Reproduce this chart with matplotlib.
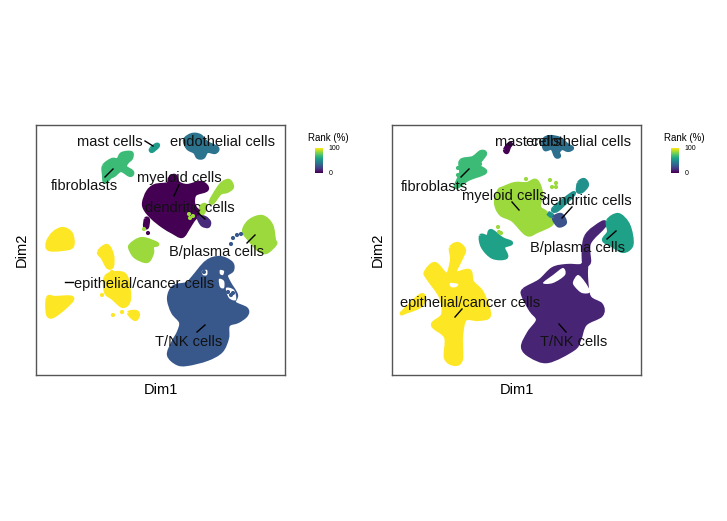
import matplotlib
matplotlib.use('Agg')
import matplotlib.pyplot as plt
from matplotlib.cm import ScalarMappable
from matplotlib.colors import Normalize
from matplotlib.patches import PathPatch
from matplotlib.path import Path

plt.rcParams['font.family'] = ['Liberation Sans', 'DejaVu Sans']

W, H = 727, 521

# outlines of the clusters (x, y as on screen)
# left panel
l_mast = [(151,149),(156,145),(158,145),(157,147),(152,151)]
l_endo = [(185,140),(192,135),(200,136),(207,143),(217,148),(215,152),(207,151),(203,157),(198,157),(195,152),(188,148)]
l_fibro = [(104,166),(112,160),(118,160),(122,154),(131,153),(131,158),(127,162),(125,167),(132,172),(130,175),(121,170),(114,175),(110,177),(105,182),(104,175)]
l_myeloid = [(170,178),(175,176),(178,183),(187,186),(200,183),(206,186),(206,190),(195,194),(193,202),(195,208),(199,213),(193,220),(188,228),(182,236),(173,232),(163,226),(153,218),(146,210),(144,203),(148,192),(155,186),(168,184)]
l_myeloid2 = [(146,219),(148,220),(147,227),(145,226)]
l_dend = [(199,217),(205,218),(209,222),(208,226),(203,225),(200,221)]
l_green1 = [(201,207),(205,205),(204,211),(202,213)]
l_green2 = [(223,183),(229,181),(232,187),(227,191),(220,193),(213,202),(211,201),(218,189)]
l_bplasma = [(250,221),(262,217),(271,225),(274,240),(275,244),(266,252),(258,249),(250,240),(244,231)]
l_green3 = [(131,245),(142,239),(157,244),(152,246),(152,253),(147,261),(136,257),(131,250)]
l_yellow1 = [(54,233),(63,229),(71,234),(72,246),(62,249),(49,249),(48,242)]
l_yellow2 = [(99,252),(107,246),(112,255),(112,266),(108,267),(103,258)]
l_yellow3 = [(106,277),(117,273),(126,277),(129,299),(123,306),(113,298),(106,292)]
l_yellow4 = [(129,313),(136,312),(138,315),(135,319)]
l_yellow5 = [(48,298),(55,298),(72,298),(65,307),(53,316),(48,314)]
l_tnk = [(207,262),(220,258),(231,263),(232,270),(226,275),(229,283),(236,295),(234,303),(246,309),(246,315),(238,321),(228,325),(227,338),(221,351),(207,359),(187,364),(177,363),(169,355),(173,343),(179,332),(181,322),(173,312),(169,298),(174,287),(187,284),(193,278)]
l_hole1 = [(202,271),(207,270),(207,275),(203,275)]
l_hole2 = [(220,270),(224,271),(223,275),(220,274)]
l_hole3 = [(219,279),(224,281),(224,288),(220,287)]
l_hole4 = [(226,288),(234,290),(236,300),(229,298)]

l_polys = [l_tnk, l_myeloid, l_myeloid2, l_dend, l_green1, l_green2, l_bplasma, l_green3, l_yellow1, l_yellow2,
           l_yellow3, l_yellow4, l_yellow5, l_mast, l_endo, l_fibro]
l_ranks = [27, 0, 0, 12, 85, 85, 85, 85, 100, 100, 100, 100, 100, 55, 38, 68]
l_holes = [l_hole1, l_hole2, l_hole3, l_hole4]
l_dots_x = [233, 237, 241, 231, 102, 122, 113, 112, 189, 190, 193, 144, 148, 228, 231, 229, 233, 198, 204]
l_dots_y = [238, 235, 234, 244, 295, 312, 315, 272, 214, 218, 216, 229, 233, 292, 295, 284, 293, 276, 272]
l_dots_rank = [27, 27, 27, 27, 100, 100, 100, 100, 85, 85, 85, 85, 0, 27, 27, 27, 27, 27, 27]

l_labels = ['mast cells', 'endothelial cells', 'fibroblasts', 'myeloid cells', 'dendritic cells', 'B/plasma cells', 'epithelial/cancer cells', 'T/NK cells']
l_label_x = [110, 222.5, 84, 179, 190, 216.5, 144, 189]
l_label_y = [142, 142, 186, 178, 208, 252, 284, 342]
l_segs = [((145,141),(153,146)), ((105,177),(113,169)), ((174,196),(179,185)), ((198,213),(205,219)),
          ((247,243),(255,235)), ((65,282),(73,282)), ((197,332),(205,325))]

# right panel
r_mast = [(505,150),(508,145),(511,144),(509,147),(507,152)]
r_endo = [(544,140),(550,137),(560,139),(567,145),(572,148),(568,150),(562,148),(558,152),(559,156),(556,156),(552,148),(545,149)]
r_fibro = [(461,161),(473,158),(481,152),(485,154),(478,165),(485,172),(468,179),(456,187),(461,173)]
r_myeloid = [(504,188),(515,184),(527,184),(536,181),(541,193),(539,207),(546,213),(552,223),(537,231),(527,234),(513,220),(501,214),(496,203),(499,191)]
r_teal1 = [(579,183),(584,180),(587,185),(582,191),(578,191)]
r_teal2 = [(554,208),(572,194),(572,196),(557,210)]
r_teal3 = [(548,213),(552,215),(551,216)]
r_dend = [(554,218),(561,215),(565,222),(562,225),(558,225)]
r_bplasma = [(608,221),(618,215),(627,223),(631,235),(631,246),(623,251),(612,245),(604,240),(609,232)]
r_strip = [(586,237),(602,223),(604,226),(589,243),(589,262),(584,262)]
r_teal4 = [(481,236),(488,237),(491,231),(502,239),(511,243),(503,247),(506,257),(493,257),(483,247)]
r_yellow = [(451,248),(458,244),(464,250),(461,258),(455,273),(469,271),(472,282),(482,293),(489,315),(478,319),(465,319),(461,337),(461,359),(455,364),(446,358),(446,337),(433,325),(443,315),(441,297),(428,278),(426,272),(435,264),(447,275),(452,260)]
r_yellow2 = [(403,312),(420,296),(424,298),(420,306),(405,312)]
r_tnk = [(524,290),(540,281),(553,269),(567,266),(581,266),(586,261),(586,277),(589,297),(601,305),(601,315),(585,324),(579,340),(573,349),(548,361),(531,356),(523,347),(529,333),(538,320),(531,310),(524,297)]
r_hole1 = [(543,283),(553,275),(563,268),(565,275),(553,283)]
r_hole2 = [(573,282),(578,275),(585,282),(590,292),(582,293),(575,287)]
r_hole3 = [(450,283),(458,284),(456,287),(451,287)]

r_polys = [r_tnk, r_strip, r_yellow, r_yellow2, r_myeloid, r_teal1, r_teal2, r_teal3, r_dend, r_bplasma, r_teal4,
           r_mast, r_endo, r_fibro]
r_ranks = [10, 10, 100, 100, 85, 50, 50, 50, 25, 57, 57, 0, 36, 68]
r_holes = [r_hole1, r_hole2, r_hole3]
r_dots_x = [458, 480, 458, 526, 498, 499, 501, 550, 556, 552, 556]
r_dots_y = [168, 164, 175, 179, 227, 232, 233, 180, 183, 187, 187]
r_dots_rank = [68, 68, 68, 85, 85, 85, 85, 85, 85, 85, 85]

r_labels = l_labels
r_label_x = [528, 579, 434.5, 504, 587, 577.5, 470.5, 574]
r_label_y = [142, 142, 187, 196, 201, 248, 303, 342]
r_segs = [((461,177),(469,169)), ((512,202),(519,210)), ((572,207),(562,218)), ((607,239),(616,231)),
          ((455,317),(462,309)), ((559,324),(566,332))]


# closed smooth curve through the outline points
def blob(poly):
    n = len(poly)
    verts = [poly[0]]
    codes = [Path.MOVETO]
    for i in range(n):
        p0, p1, p2, p3 = poly[i - 1], poly[i], poly[(i + 1) % n], poly[(i + 2) % n]
        verts.append((p1[0] + (p2[0] - p0[0]) / 6, p1[1] + (p2[1] - p0[1]) / 6))
        verts.append((p2[0] - (p3[0] - p1[0]) / 6, p2[1] - (p3[1] - p1[1]) / 6))
        verts.append(p2)
        codes += [Path.CURVE4] * 3
    return Path(verts, codes)


def panel(x0, x1, polys, ranks, holes, dots_x, dots_y, dots_rank, labels, label_x, label_y, segs):
    y0, y1 = 125, 375
    ax = fig.add_axes([x0 / W, 1 - y1 / H, (x1 - x0) / W, (y1 - y0) / H])
    ax.set_xlim(x0, x1)
    ax.set_ylim(y1, y0)
    for poly, rank in zip(polys, ranks):
        c = plt.cm.viridis(rank / 100)
        ax.add_patch(PathPatch(blob(poly), facecolor=c, edgecolor=c, lw=3, joinstyle='round'))
    for poly in holes:
        ax.add_patch(PathPatch(blob(poly), facecolor='white', edgecolor='none'))
    ax.scatter(dots_x, dots_y, c=dots_rank, cmap='viridis', vmin=0, vmax=100, s=9, lw=0)
    for a, b in segs:
        ax.plot([a[0], b[0]], [a[1], b[1]], color='black', lw=1)
    for t, x, y in zip(labels, label_x, label_y):
        ax.text(x, y, t, ha='center', va='center', fontsize=10.5, color='#111111', clip_on=False)
    ax.set_xticks([])
    ax.set_yticks([])
    ax.set_xlabel('Dim1', fontsize=10.5, labelpad=6)
    ax.set_ylabel('Dim2', fontsize=10.5, labelpad=5)
    for s in ax.spines.values():
        s.set_color('#555555')
        s.set_linewidth(1)


def legend(x0):
    cax = fig.add_axes([x0 / W, 1 - 172.5 / H, 8 / W, 24.5 / H])
    cb = fig.colorbar(ScalarMappable(Normalize(0, 100), 'viridis'), cax=cax, ticks=[0, 100])
    cb.outline.set_visible(False)
    cb.ax.tick_params(length=0, labelsize=5, pad=4)
    fig.text((x0 + 13) / W, 1 - 138 / H, 'Rank (%)', fontsize=7, ha='center', va='center')


fig = plt.figure(figsize=(W / 100, H / 100), dpi=100)
panel(36, 285, l_polys, l_ranks, l_holes, l_dots_x, l_dots_y, l_dots_rank, l_labels, l_label_x, l_label_y, l_segs)
panel(392, 641, r_polys, r_ranks, r_holes, r_dots_x, r_dots_y, r_dots_rank, r_labels, r_label_x, r_label_y, r_segs)
legend(315)
legend(671)
fig.savefig('out.png', dpi=100)
